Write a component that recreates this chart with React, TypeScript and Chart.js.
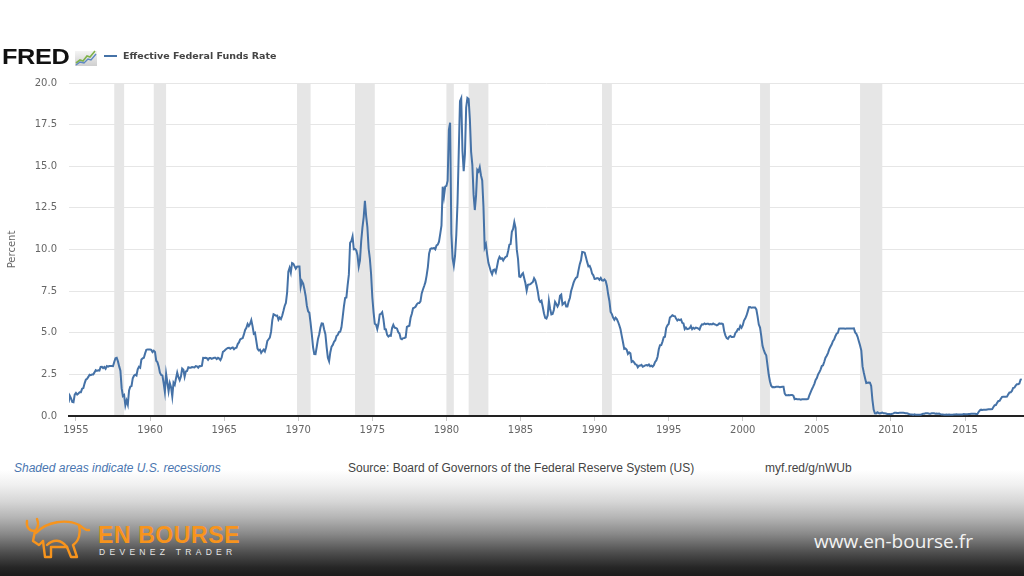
import React, { useEffect, useRef } from "react";
import { Chart, registerables } from "chart.js";

Chart.register(...registerables);

// Effective Federal Funds Rate, monthly, starting July 1954 (percent)
const firstYear = 1954;
const firstMonth = 7; // July

const rates1954to1959 = [
  0.8, 1.22, 1.06, 0.85, 0.83, 1.28,
  1.39, 1.29, 1.35, 1.43, 1.43, 1.64, 1.68, 1.96, 2.18, 2.24, 2.35, 2.48,
  2.45, 2.5, 2.5, 2.62, 2.75, 2.71, 2.75, 2.73, 2.95, 2.96, 2.88, 2.94,
  2.84, 3.0, 2.96, 3.0, 3.0, 3.0, 2.99, 3.24, 3.47, 3.5, 3.28, 2.98,
  2.72, 1.67, 1.2, 1.26, 0.63, 0.93, 0.68, 1.53, 1.76, 1.8, 2.27, 2.42,
  2.48, 2.43, 2.8, 2.96, 2.9, 3.39, 3.47, 3.5, 3.76, 3.98, 4.0, 3.99,
];
const rates1960s = [
  3.99, 3.97, 3.84, 3.92, 3.85, 3.32, 3.23, 2.98, 2.6, 2.47, 2.44, 1.98,
  1.45, 2.54, 2.02, 1.49, 1.98, 1.73, 1.17, 2.0, 1.88, 2.26, 2.61, 2.33,
  2.15, 2.37, 2.85, 2.78, 2.36, 2.68, 2.71, 2.93, 2.9, 2.9, 2.94, 2.93,
  2.92, 3.0, 2.98, 2.9, 3.0, 2.99, 3.02, 3.49, 3.48, 3.5, 3.48, 3.38,
  3.48, 3.48, 3.43, 3.47, 3.5, 3.5, 3.42, 3.5, 3.45, 3.36, 3.52, 3.85,
  3.9, 3.98, 4.04, 4.09, 4.1, 4.04, 4.09, 4.12, 4.01, 4.08, 4.1, 4.32,
  4.42, 4.6, 4.65, 4.67, 4.9, 5.17, 5.3, 5.53, 5.4, 5.53, 5.76, 5.4,
  4.94, 5.0, 4.53, 4.05, 3.94, 3.98, 3.79, 3.9, 3.99, 3.88, 4.13, 4.51,
  4.61, 4.71, 5.05, 5.76, 6.11, 6.07, 6.02, 6.03, 5.78, 5.91, 5.82, 6.02,
  6.3, 6.61, 6.79, 7.41, 8.67, 8.9, 8.61, 9.19, 9.15, 9.0, 8.85, 8.97,
];
const rates1970s = [
  8.98, 8.98, 7.76, 8.1, 7.95, 7.61, 7.21, 6.61, 6.29, 6.2, 5.6, 4.9,
  4.14, 3.72, 3.71, 4.16, 4.63, 4.91, 5.31, 5.56, 5.55, 5.2, 4.91, 4.14,
  3.5, 3.29, 3.83, 4.17, 4.27, 4.46, 4.55, 4.8, 4.87, 5.04, 5.06, 5.33,
  5.94, 6.58, 7.09, 7.12, 7.84, 8.49, 10.4, 10.5, 10.78, 10.01, 10.03, 9.95,
  9.65, 8.97, 9.35, 10.51, 11.31, 11.93, 12.92, 12.01, 11.34, 10.06, 9.45, 8.53,
  7.13, 6.24, 5.54, 5.49, 5.22, 5.55, 6.1, 6.14, 6.24, 5.82, 5.22, 5.2,
  4.87, 4.77, 4.84, 4.82, 5.29, 5.48, 5.31, 5.29, 5.25, 5.03, 4.95, 4.65,
  4.61, 4.68, 4.69, 4.73, 5.35, 5.39, 5.42, 5.9, 6.14, 6.47, 6.51, 6.56,
  6.7, 6.78, 6.79, 6.89, 7.36, 7.6, 7.81, 8.04, 8.45, 8.96, 9.76, 10.03,
  10.07, 10.06, 10.09, 10.01, 10.24, 10.29, 10.47, 10.94, 11.43, 13.77, 13.18, 13.78,
];
const rates1980s = [
  13.82, 14.13, 17.19, 17.61, 10.98, 9.47, 9.03, 9.61, 10.87, 12.81, 15.85, 18.9,
  19.08, 15.93, 14.7, 15.72, 18.52, 19.1, 19.04, 17.82, 15.87, 15.08, 13.31, 12.37,
  13.22, 14.78, 14.68, 14.94, 14.45, 14.15, 12.59, 10.12, 10.31, 9.71, 9.2, 8.95,
  8.68, 8.51, 8.77, 8.8, 8.63, 8.98, 9.37, 9.56, 9.45, 9.48, 9.34, 9.47,
  9.56, 9.59, 9.91, 10.29, 10.32, 11.06, 11.23, 11.64, 11.3, 9.99, 9.43, 8.38,
  8.35, 8.5, 8.58, 8.27, 7.97, 7.53, 7.88, 7.9, 7.92, 7.99, 8.05, 8.27,
  8.14, 7.86, 7.48, 6.99, 6.85, 6.92, 6.56, 6.17, 5.89, 5.85, 6.04, 6.91,
  6.43, 6.1, 6.13, 6.37, 6.85, 6.73, 6.58, 6.73, 7.22, 7.29, 6.69, 6.77,
  6.83, 6.58, 6.58, 6.87, 7.09, 7.51, 7.75, 8.01, 8.19, 8.3, 8.35, 8.76,
  9.12, 9.36, 9.85, 9.84, 9.81, 9.53, 9.24, 8.99, 9.02, 8.84, 8.55, 8.45,
];
const rates1990s = [
  8.23, 8.24, 8.28, 8.26, 8.18, 8.29, 8.15, 8.13, 8.2, 8.11, 7.81, 7.31,
  6.91, 6.25, 6.12, 5.91, 5.78, 5.9, 5.82, 5.66, 5.45, 5.21, 4.81, 4.43,
  4.03, 4.06, 3.98, 3.73, 3.82, 3.76, 3.25, 3.3, 3.22, 3.1, 3.09, 2.92,
  3.02, 3.03, 3.07, 2.96, 3.0, 3.04, 3.06, 3.03, 3.09, 2.99, 3.02, 2.96,
  3.05, 3.25, 3.34, 3.56, 4.01, 4.25, 4.26, 4.47, 4.73, 4.76, 5.29, 5.45,
  5.53, 5.92, 5.98, 6.05, 6.01, 6.0, 5.85, 5.74, 5.8, 5.76, 5.8, 5.6,
  5.56, 5.22, 5.31, 5.22, 5.24, 5.27, 5.4, 5.22, 5.3, 5.24, 5.31, 5.29,
  5.25, 5.19, 5.39, 5.51, 5.5, 5.56, 5.52, 5.54, 5.54, 5.5, 5.52, 5.5,
  5.56, 5.51, 5.49, 5.45, 5.49, 5.56, 5.54, 5.55, 5.51, 5.07, 4.83, 4.68,
  4.63, 4.76, 4.81, 4.74, 4.74, 4.76, 4.99, 5.07, 5.22, 5.2, 5.42, 5.3,
];
const rates2000s = [
  5.45, 5.73, 5.85, 6.02, 6.27, 6.53, 6.54, 6.5, 6.52, 6.51, 6.51, 6.4,
  5.98, 5.49, 5.31, 4.8, 4.21, 3.97, 3.77, 3.65, 3.07, 2.49, 2.09, 1.82,
  1.73, 1.74, 1.73, 1.75, 1.75, 1.75, 1.73, 1.74, 1.75, 1.75, 1.34, 1.24,
  1.24, 1.26, 1.25, 1.26, 1.26, 1.22, 1.01, 1.03, 1.01, 1.01, 1.0, 0.98,
  1.0, 1.01, 1.0, 1.0, 1.0, 1.03, 1.26, 1.43, 1.61, 1.76, 1.93, 2.16,
  2.28, 2.5, 2.63, 2.79, 3.0, 3.04, 3.26, 3.5, 3.62, 3.78, 4.0, 4.16,
  4.29, 4.49, 4.59, 4.79, 4.94, 4.99, 5.24, 5.25, 5.25, 5.25, 5.25, 5.24,
  5.25, 5.26, 5.26, 5.25, 5.25, 5.25, 5.26, 5.02, 4.94, 4.76, 4.49, 4.24,
  3.94, 2.98, 2.61, 2.28, 1.98, 2.0, 2.01, 2.0, 1.81, 0.97, 0.39, 0.16,
  0.15, 0.22, 0.18, 0.15, 0.18, 0.21, 0.16, 0.16, 0.15, 0.12, 0.12, 0.12,
];
const rates2010s = [
  0.11, 0.13, 0.16, 0.2, 0.2, 0.18, 0.18, 0.19, 0.19, 0.19, 0.19, 0.18,
  0.17, 0.16, 0.14, 0.1, 0.09, 0.09, 0.07, 0.1, 0.08, 0.07, 0.08, 0.07,
  0.08, 0.1, 0.13, 0.14, 0.16, 0.16, 0.16, 0.13, 0.14, 0.16, 0.16, 0.16,
  0.14, 0.15, 0.14, 0.15, 0.11, 0.09, 0.09, 0.08, 0.08, 0.09, 0.08, 0.09,
  0.07, 0.07, 0.08, 0.09, 0.09, 0.1, 0.09, 0.09, 0.09, 0.09, 0.09, 0.12,
  0.11, 0.11, 0.11, 0.12, 0.12, 0.13, 0.13, 0.14, 0.14, 0.12, 0.12, 0.24,
  0.34, 0.38, 0.36, 0.37, 0.37, 0.38, 0.39, 0.4, 0.4, 0.4, 0.41, 0.54,
  0.65, 0.66, 0.79, 0.9, 0.91, 1.04, 1.15, 1.16, 1.15, 1.15, 1.16, 1.3,
  1.41, 1.42, 1.51, 1.69, 1.7, 1.82, 1.91, 1.91, 1.95, 2.19, 2.2,
];

// NBER recessions (decimal years)
const recessionStarts = [1957.583, 1960.25, 1969.917, 1973.833, 1980.0, 1981.5, 1990.5, 2001.167, 2007.917];
const recessionEnds = [1958.25, 1961.083, 1970.833, 1975.167, 1980.5, 1982.833, 1991.167, 2001.833, 2009.417];

const xTickYears = [1955, 1960, 1965, 1970, 1975, 1980, 1985, 1990, 1995, 2000, 2005, 2010, 2015];
const yTickValues = [0, 2.5, 5, 7.5, 10, 12.5, 15, 17.5, 20];

const seriesName = "Effective Federal Funds Rate";
const lineColor = "#4572a7";

const allRates = [
  ...rates1954to1959,
  ...rates1960s,
  ...rates1970s,
  ...rates1980s,
  ...rates1990s,
  ...rates2000s,
  ...rates2010s,
];
const monthDates = allRates.map((_, i) => firstYear + (firstMonth - 1 + i) / 12);

const recessionPlugin = {
  id: "recessions",
  beforeDatasetsDraw(chart: any) {
    const { ctx, chartArea } = chart;
    const x = chart.scales.x;
    ctx.save();
    ctx.fillStyle = "#e6e6e6";
    recessionStarts.forEach((s, i) => {
      const x0 = x.getPixelForValue(s);
      const x1 = x.getPixelForValue(recessionEnds[i]);
      ctx.fillRect(x0, chartArea.top, x1 - x0, chartArea.bottom - chartArea.top - 1);
    });
    ctx.restore();
  },
};

function FredIcon() {
  return (
    <svg width="22" height="18" viewBox="0 0 22 18" style={{ position: "absolute", left: 75, top: 48 }}>
      <defs>
        <linearGradient id="fg" x1="0" y1="0" x2="0" y2="1">
          <stop offset="0" stopColor="#f4f4f4" />
          <stop offset="1" stopColor="#cfcfcf" />
        </linearGradient>
      </defs>
      <rect x="0" y="3" width="22" height="15" fill="url(#fg)" />
      <polyline points="1,15 5,12 8,13 12,8 15,9 20,3" fill="none" stroke="#7fb24a" strokeWidth="1.6" />
      <polyline points="1,17 5,14 9,15 13,11 16,12 21,6" fill="none" stroke="#5d88c2" strokeWidth="1.4" />
    </svg>
  );
}

function BullLogo() {
  return (
    <svg width="68" height="46" viewBox="0 0 68 46" style={{ position: "absolute", left: 23, top: 515 }}>
      <g fill="none" stroke="#f7941d" strokeWidth="2.4" strokeLinejoin="round" strokeLinecap="round">
        <path d="M4 6 C3 12 6 16 12 16" />
        <path d="M14 4 C16 9 15 13 12 16" />
        <path d="M12 16 L10 26 L16 30 L20 26" />
        <path d="M13 18 C24 6 44 4 56 10 C60 12 62 16 66 15" />
        <path d="M56 10 C58 18 56 26 50 30 L54 42 L48 42 L44 32" />
        <path d="M20 26 L22 42 L28 42 L28 32 L44 32" />
        <path d="M24 30 C30 24 38 24 44 32" />
      </g>
    </svg>
  );
}

const footerStyle: React.CSSProperties = {
  position: "absolute",
  top: 461,
  fontFamily: "Liberation Sans",
  fontSize: 12,
  lineHeight: "14px",
  color: "#444",
  whiteSpace: "nowrap",
};

export default function App() {
  const canvasRef = useRef<HTMLCanvasElement | null>(null);

  useEffect(() => {
    if (!canvasRef.current) return;
    const points = allRates.map((v, i) => ({ x: monthDates[i], y: v }));
    const chart = new Chart(canvasRef.current, {
      type: "line",
      data: {
        datasets: [
          {
            label: seriesName,
            data: points,
            borderColor: lineColor,
            backgroundColor: lineColor,
            borderWidth: 2,
            pointRadius: 0,
            tension: 0,
            fill: false,
          },
        ],
      },
      options: {
        animation: false,
        responsive: false,
        maintainAspectRatio: false,
        devicePixelRatio: 1,
        layout: { padding: { top: 83, bottom: 4, left: 0, right: 0 } },
        plugins: {
          legend: { display: false },
          tooltip: { enabled: false },
        },
        scales: {
          x: {
            type: "linear",
            min: 1954.53,
            max: 2018.98,
            afterBuildTicks: (scale: any) => {
              scale.ticks = xTickYears.map((v) => ({ value: v }));
            },
            afterFit: (scale: any) => {
              scale.height = 30;
            },
            grid: {
              drawOnChartArea: false,
              drawTicks: true,
              tickLength: 5,
              color: "#c8c8c8",
            },
            border: { display: true, color: "#222222", width: 2 },
            ticks: {
              color: "#666666",
              font: { family: "DejaVu Sans", size: 10 },
              padding: 3,
              maxRotation: 0,
              autoSkip: false,
              callback: (v: any) => String(v),
            },
          },
          y: {
            min: 0,
            max: 20,
            afterBuildTicks: (scale: any) => {
              scale.ticks = yTickValues.map((v) => ({ value: v }));
            },
            afterFit: (scale: any) => {
              scale.width = 69;
            },
            grid: {
              drawTicks: false,
              color: (ctx: any) => (ctx.tick && ctx.tick.value === 0 ? "rgba(0,0,0,0)" : "#e6e6e6"),
            },
            border: { display: false },
            ticks: {
              color: "#666666",
              font: { family: "DejaVu Sans", size: 10 },
              padding: 12,
              callback: (v: any) => Number(v).toFixed(1),
            },
            title: {
              display: true,
              text: "Percent",
              color: "#666666",
              font: { family: "DejaVu Sans", size: 10 },
              padding: { top: 6, bottom: 0 },
            },
          },
        },
      },
      plugins: [recessionPlugin],
    });
    return () => chart.destroy();
  }, []);

  return (
    <div
      style={{
        position: "fixed",
        left: 0,
        top: 0,
        width: 1024,
        height: 576,
        background: "#ffffff",
        overflow: "hidden",
      }}
    >
      <div
        style={{
          position: "absolute",
          left: 0,
          top: 470,
          width: 1024,
          height: 106,
          background:
            "linear-gradient(to bottom, #ffffff 0%, #f0f0f0 14%, #d6d6d6 30%, #b4b4b4 45%, #8a8a8a 60%, #4e4e4e 78%, #262626 92%, #1b1b1b 100%)",
        }}
      />
      <canvas
        ref={canvasRef}
        width={1024}
        height={450}
        style={{ position: "absolute", left: 0, top: 0, width: 1024, height: 450, display: "block" }}
      />
      <div
        style={{
          position: "absolute",
          left: 2,
          top: 46,
          fontFamily: "Liberation Sans",
          fontWeight: 700,
          fontSize: 22,
          lineHeight: "22px",
          color: "#111",
          transform: "scaleX(1.15)",
          transformOrigin: "left top",
          letterSpacing: -0.3,
        }}
      >
        FRED
      </div>
      <FredIcon />
      <div style={{ position: "absolute", left: 104, top: 55, width: 13, height: 2, background: lineColor }} />
      <div
        style={{
          position: "absolute",
          left: 123,
          top: 50,
          fontFamily: "DejaVu Sans",
          fontWeight: 700,
          fontSize: 9.5,
          lineHeight: "12px",
          color: "#444",
          whiteSpace: "nowrap",
        }}
      >
        {seriesName}
      </div>
      <div style={{ ...footerStyle, left: 14, fontStyle: "italic", color: "#4a76b0" }}>
        Shaded areas indicate U.S. recessions
      </div>
      <div style={{ ...footerStyle, left: 348 }}>
        Source: Board of Governors of the Federal Reserve System (US)
      </div>
      <div style={{ ...footerStyle, left: 765 }}>myf.red/g/nWUb</div>
      <BullLogo />
      <div
        style={{
          position: "absolute",
          left: 98,
          top: 523,
          fontFamily: "Liberation Sans",
          fontWeight: 700,
          fontSize: 23,
          lineHeight: "24px",
          color: "#f7941d",
          letterSpacing: 0.6,
          whiteSpace: "nowrap",
        }}
      >
        EN BOURSE
      </div>
      <div
        style={{
          position: "absolute",
          left: 99,
          top: 547,
          fontFamily: "Liberation Sans",
          fontSize: 8.5,
          lineHeight: "10px",
          color: "#e6e6e6",
          letterSpacing: 4.3,
          whiteSpace: "nowrap",
        }}
      >
        DEVENEZ TRADER
      </div>
      <div
        style={{
          position: "absolute",
          left: 814,
          top: 529,
          fontFamily: "Open Sans",
          fontSize: 19,
          lineHeight: "24px",
          color: "#f2f2f2",
          whiteSpace: "nowrap",
        }}
      >
        www.en-bourse.fr
      </div>
    </div>
  );
}
